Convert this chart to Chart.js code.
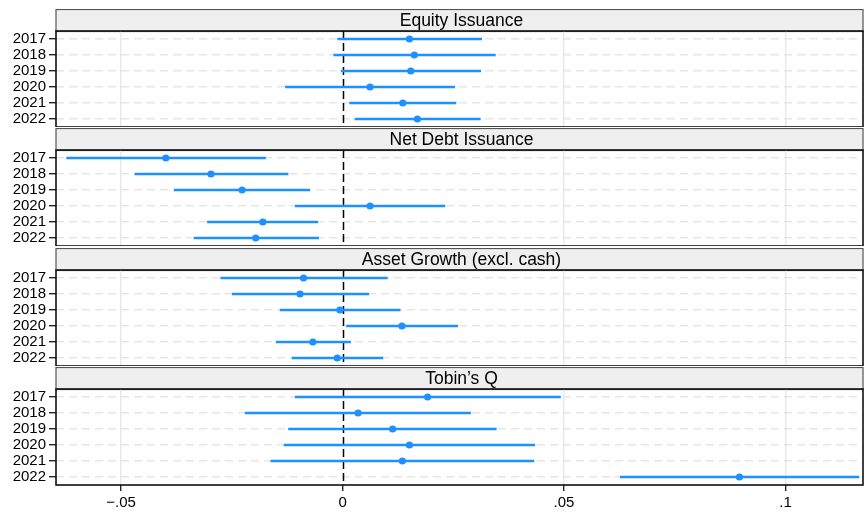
<!DOCTYPE html>
<html>
<head>
<meta charset="utf-8">
<script src="https://cdn.jsdelivr.net/npm/chart.js@4.4.1/dist/chart.umd.min.js"></script>
<style>
  body { margin: 0; background: #fff; width: 864px; height: 513px; position: relative; overflow: hidden; }
  canvas { position: absolute; left: 0; }
</style>
</head>
<body>
<script>
/* global document, Chart */
const years = ["2017", "2018", "2019", "2020", "2021", "2022"];
const panelTitles = ["Equity Issuance", "Net Debt Issuance", "Asset Growth (excl. cash)", "Tobin\u2019s Q"];

// point estimates and confidence bounds, one set per panel
const equityEst = [0.0151, 0.0162, 0.0154, 0.0062, 0.0136, 0.0169];
const equityLow = [-0.0011, -0.0020, -0.0003, -0.0129, 0.0016, 0.0028];
const equityHigh = [0.0314, 0.0345, 0.0312, 0.0253, 0.0256, 0.0311];

const debtEst = [-0.0399, -0.0297, -0.0227, 0.0062, -0.0180, -0.0196];
const debtLow = [-0.0623, -0.0469, -0.0380, -0.0107, -0.0305, -0.0335];
const debtHigh = [-0.0174, -0.0123, -0.0074, 0.0231, -0.0056, -0.0054];

const assetEst = [-0.0088, -0.0096, -0.0006, 0.0134, -0.0067, -0.0012];
const assetLow = [-0.0275, -0.0249, -0.0141, 0.0009, -0.0150, -0.0114];
const assetHigh = [0.0101, 0.0059, 0.0130, 0.0260, 0.0018, 0.0091];

const tobinEst = [0.0192, 0.0035, 0.0113, 0.0151, 0.0135, 0.0896];
const tobinLow = [-0.0107, -0.0220, -0.0122, -0.0132, -0.0162, 0.0627];
const tobinHigh = [0.0492, 0.0289, 0.0347, 0.0434, 0.0432, 0.1166];

const xTicks = [-0.05, 0, 0.05, 0.1];
const xTickLabels = ["\u2212.05", "0", ".05", ".1"];

const panels = [
  [equityEst, equityLow, equityHigh],
  [debtEst, debtLow, debtHigh],
  [assetEst, assetLow, assetHigh],
  [tobinEst, tobinLow, tobinHigh]
];

const blue = "rgb(30, 144, 255)";
const font = "'Liberation Sans', Arial, Helvetica, sans-serif";
const headerH = 22;
const plotH = 96;
const axisH = 28;

// grey title strip above each plot, zero line, frame
const stripPlugin = {
  id: "strip",
  beforeDraw(chart, args, opts) {
    const {ctx, chartArea: a} = chart;
    ctx.save();
    ctx.fillStyle = "#efefef";
    ctx.fillRect(a.left, a.top - headerH, a.right - a.left, headerH);
    ctx.strokeStyle = "#555";
    ctx.lineWidth = 1.2;
    ctx.strokeRect(a.left, a.top - headerH + 0.5, a.right - a.left, headerH);
    ctx.fillStyle = "#000";
    ctx.font = "17.5px " + font;
    ctx.textAlign = "center";
    ctx.textBaseline = "middle";
    ctx.fillText(opts.text, (a.left + a.right) / 2 + 2, a.top - headerH / 2 + 1);
    ctx.restore();
  },
  beforeDatasetsDraw(chart) {
    const {ctx, chartArea: a, scales: {x}} = chart;
    const px = Math.round(x.getPixelForValue(0)) + 0.5;
    ctx.save();
    ctx.strokeStyle = "#000";
    ctx.lineWidth = 1.5;
    ctx.setLineDash([8, 4]);
    ctx.beginPath();
    ctx.moveTo(px, a.top);
    ctx.lineTo(px, a.bottom);
    ctx.stroke();
    ctx.restore();
  },
  afterDraw(chart) {
    const {ctx, chartArea: a} = chart;
    ctx.save();
    ctx.strokeStyle = "#111";
    ctx.lineWidth = 1.6;
    ctx.strokeRect(a.left, a.top, a.right - a.left, a.bottom - a.top);
    ctx.restore();
  }
};

const tops = [9, 128, 248, 367];

panels.forEach(([est, low, high], p) => {
  const last = p === panels.length - 1;
  const canvas = document.createElement("canvas");
  canvas.width = 864;
  canvas.height = headerH + plotH + (last ? axisH : 0);
  canvas.style.top = tops[p] + "px";
  document.body.appendChild(canvas);

  new Chart(canvas, {
    data: {
      labels: years,
      datasets: [
        {
          type: "line",
          indexAxis: "y",
          data: est,
          showLine: false,
          pointRadius: 3.6,
          pointBorderWidth: 0,
          pointBackgroundColor: blue,
          order: 0
        },
        {
          type: "bar",
          indexAxis: "y",
          data: years.map((y, i) => [low[i], high[i]]),
          backgroundColor: blue,
          borderWidth: 0,
          barThickness: 1.8,
          order: 1
        }
      ]
    },
    options: {
      indexAxis: "y",
      responsive: false,
      animation: false,
      devicePixelRatio: 1,
      layout: {autoPadding: false, padding: {top: headerH, right: 1, left: 0, bottom: 0}},
      plugins: {
        legend: {display: false},
        tooltip: {enabled: false},
        strip: {text: panelTitles[p]}
      },
      scales: {
        x: {
          type: "linear",
          min: -0.0647,
          max: 0.1175,
          afterBuildTicks: s => { s.ticks = xTicks.map(v => ({value: v})); },
          afterFit: s => {
            s.height = last ? axisH : 0;
            s.paddingLeft = 0;
            s.paddingRight = 0;
          },
          border: {display: false},
          grid: {
            color: c => (c.tick && c.tick.value === 0 ? "rgba(0,0,0,0)" : "#e9e9e9"),
            lineWidth: 1.5,
            drawTicks: last,
            tickLength: 6,
            tickColor: "#000",
            tickWidth: 1.2
          },
          ticks: {
            display: last,
            padding: 3,
            color: "#000",
            font: {size: 15, family: font},
            callback: v => xTickLabels[xTicks.indexOf(v)]
          }
        },
        y: {
          type: "category",
          offset: true,
          afterFit: s => {
            s.width = 56;
            s.paddingTop = 0;
            s.paddingBottom = 0;
          },
          border: {display: false, dash: [8, 5]},
          grid: {
            offset: false,
            color: "#e6e6e6",
            lineWidth: 1.5,
            tickLength: 7,
            tickColor: "#000",
            tickWidth: 1.2
          },
          ticks: {
            autoSkip: false,
            padding: 3,
            color: "#000",
            font: {size: 15, family: font}
          }
        }
      }
    },
    plugins: [stripPlugin]
  });
});
</script>
</body>
</html>
